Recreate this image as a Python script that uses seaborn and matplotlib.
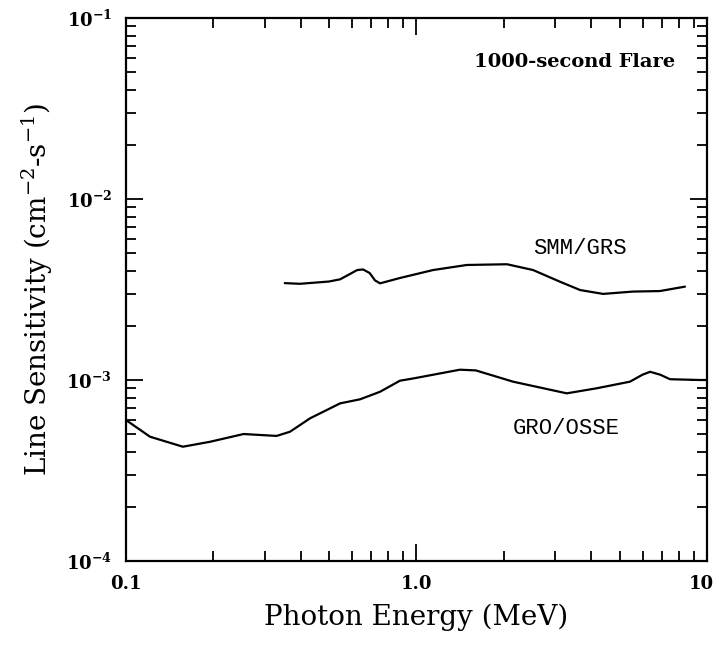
import numpy as np
import pandas as pd
import matplotlib
matplotlib.use("Agg")
import matplotlib.pyplot as plt
import matplotlib.ticker as mticker
import matplotlib.transforms as mtransforms
import seaborn as sns

# values (energy in MeV, sensitivity in cm^-2 s^-1)
smm_energy = [0.352, 0.397, 0.50, 0.546, 0.59, 0.625, 0.655, 0.69, 0.72, 0.749,
              0.877, 1.14, 1.49, 2.05, 2.52, 3.12, 3.66, 4.39, 5.56, 6.88, 8.40]
smm_sens = [3.43e-3, 3.40e-3, 3.50e-3, 3.60e-3, 3.85e-3, 4.05e-3, 4.08e-3, 3.90e-3,
            3.55e-3, 3.42e-3, 3.66e-3, 4.05e-3, 4.32e-3, 4.36e-3, 4.05e-3, 3.49e-3,
            3.14e-3, 2.99e-3, 3.08e-3, 3.10e-3, 3.28e-3]

osse_energy = [0.100, 0.121, 0.157, 0.195, 0.254, 0.330, 0.367, 0.430, 0.546, 0.639,
               0.749, 0.877, 0.975, 1.41, 1.60, 2.15, 3.29, 4.17, 5.43, 6.0, 6.37,
               6.9, 7.46, 9.46, 10.0]
osse_sens = [6.01e-4, 4.86e-4, 4.28e-4, 4.56e-4, 5.03e-4, 4.91e-4, 5.18e-4, 6.14e-4,
             7.43e-4, 7.82e-4, 8.61e-4, 9.91e-4, 1.02e-3, 1.14e-3, 1.13e-3, 9.79e-4,
             8.44e-4, 9.00e-4, 9.79e-4, 1.07e-3, 1.11e-3, 1.07e-3, 1.01e-3, 1.00e-3,
             1.00e-3]

x_ticks = [0.1, 1.0, 10]
x_tick_labels = ["0.1", "1.0", "10"]
y_ticks = [1e-4, 1e-3, 1e-2, 1e-1]
y_tick_labels = [r"$\mathbf{10^{-4}}$", r"$\mathbf{10^{-3}}$",
                 r"$\mathbf{10^{-2}}$", r"$\mathbf{10^{-1}}$"]

sns.set_style("ticks")
plt.rcParams["font.family"] = ["DejaVu Serif"]
plt.rcParams["mathtext.fontset"] = "dejavuserif"
plt.rcParams["text.color"] = "black"
plt.rcParams["axes.labelcolor"] = "black"
plt.rcParams["xtick.color"] = "black"
plt.rcParams["ytick.color"] = "black"

df = pd.concat([
    pd.DataFrame({"energy": smm_energy, "sens": smm_sens, "inst": "SMM/GRS"}),
    pd.DataFrame({"energy": osse_energy, "sens": osse_sens, "inst": "GRO/OSSE"}),
])

fig = plt.figure(figsize=(7.19, 6.47), dpi=100)
ax = fig.add_axes([0.1752, 0.1329, 0.8081, 0.8393])
sns.lineplot(data=df, x="energy", y="sens", units="inst", estimator=None,
             color="black", lw=1.6, sort=False, ax=ax)

ax.set_xscale("log")
ax.set_yscale("log")
ax.set_xlim(0.1, 10)
ax.set_ylim(1e-4, 1e-1)

ax.xaxis.set_major_locator(mticker.FixedLocator(x_ticks))
ax.xaxis.set_major_formatter(mticker.FixedFormatter(x_tick_labels))
ax.xaxis.set_minor_locator(mticker.LogLocator(base=10, subs=np.arange(2, 10)))
ax.xaxis.set_minor_formatter(mticker.NullFormatter())
ax.yaxis.set_major_locator(mticker.FixedLocator(y_ticks))
ax.yaxis.set_major_formatter(mticker.FixedFormatter(y_tick_labels))
ax.yaxis.set_minor_locator(mticker.LogLocator(base=10, subs=np.arange(2, 10)))
ax.yaxis.set_minor_formatter(mticker.NullFormatter())

ax.tick_params(which="both", direction="in", top=True, right=True, width=1.3, color="black")
ax.tick_params(which="major", length=12, labelsize=13, pad=10)
ax.tick_params(which="minor", length=7)
for lab in ax.get_xticklabels() + ax.get_yticklabels():
    lab.set_fontweight("bold")
# nudge the "10" label left so it stays inside the figure
last = ax.get_xticklabels()[-1]
last.set_transform(last.get_transform() +
                   mtransforms.ScaledTranslation(-6 / 100, 0, fig.dpi_scale_trans))
for s in ax.spines.values():
    s.set_linewidth(1.6)
    s.set_color("black")

ax.set_xlabel("Photon Energy (MeV)", fontsize=20, labelpad=8)
ax.set_ylabel(r"Line Sensitivity (cm$^{-2}$-s$^{-1}$)", fontsize=20, labelpad=8)

ax.text(3.66, 5.36e-3, "SMM/GRS", family="Liberation Mono", fontsize=16,
        ha="center", va="center")
ax.text(3.28, 5.43e-4, "GRO/OSSE", family="Liberation Mono", fontsize=16,
        ha="center", va="center")
ax.text(0.945, 0.919, "1000-second Flare", transform=ax.transAxes, fontsize=14,
        fontweight="bold", ha="right", va="center")

fig.savefig("out.png", dpi=100)
